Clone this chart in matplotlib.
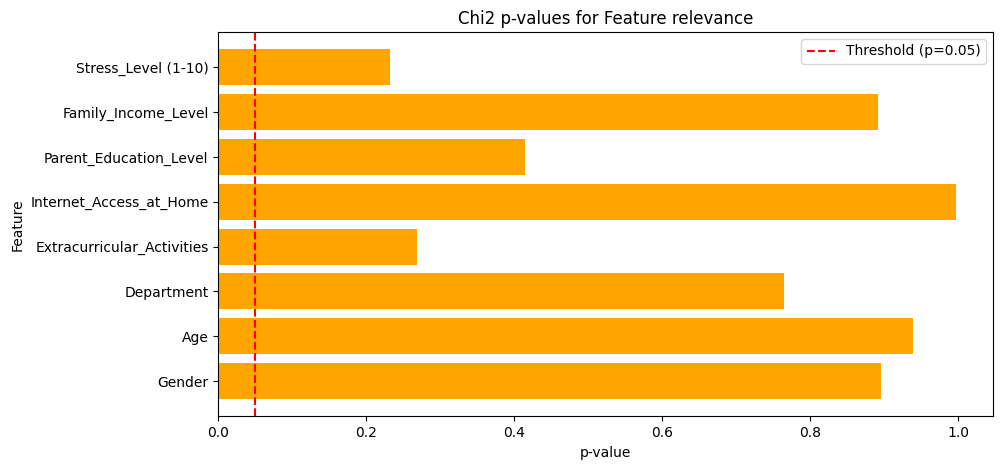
import matplotlib
matplotlib.use('Agg')
import matplotlib.pyplot as plt

features = ['Gender', 'Age', 'Department', 'Extracurricular_Activities',
            'Internet_Access_at_Home', 'Parent_Education_Level',
            'Family_Income_Level', 'Stress_Level (1-10)']
p_values = [0.895, 0.939, 0.764, 0.269, 0.997, 0.415, 0.891, 0.232]
threshold = 0.05

fig, ax = plt.subplots(figsize=(10.02, 4.7), dpi=100)
fig.subplots_adjust(left=0.2178, right=0.991, top=0.932, bottom=0.114)

ax.barh(features, p_values, color='orange')
ax.axvline(threshold, color='red', linestyle='--', label='Threshold (p=0.05)')

ax.set_xlabel('p-value')
ax.set_ylabel('Feature')
ax.set_title('Chi2 p-values for Feature relevance')
ax.legend()

fig.savefig('out.png')
